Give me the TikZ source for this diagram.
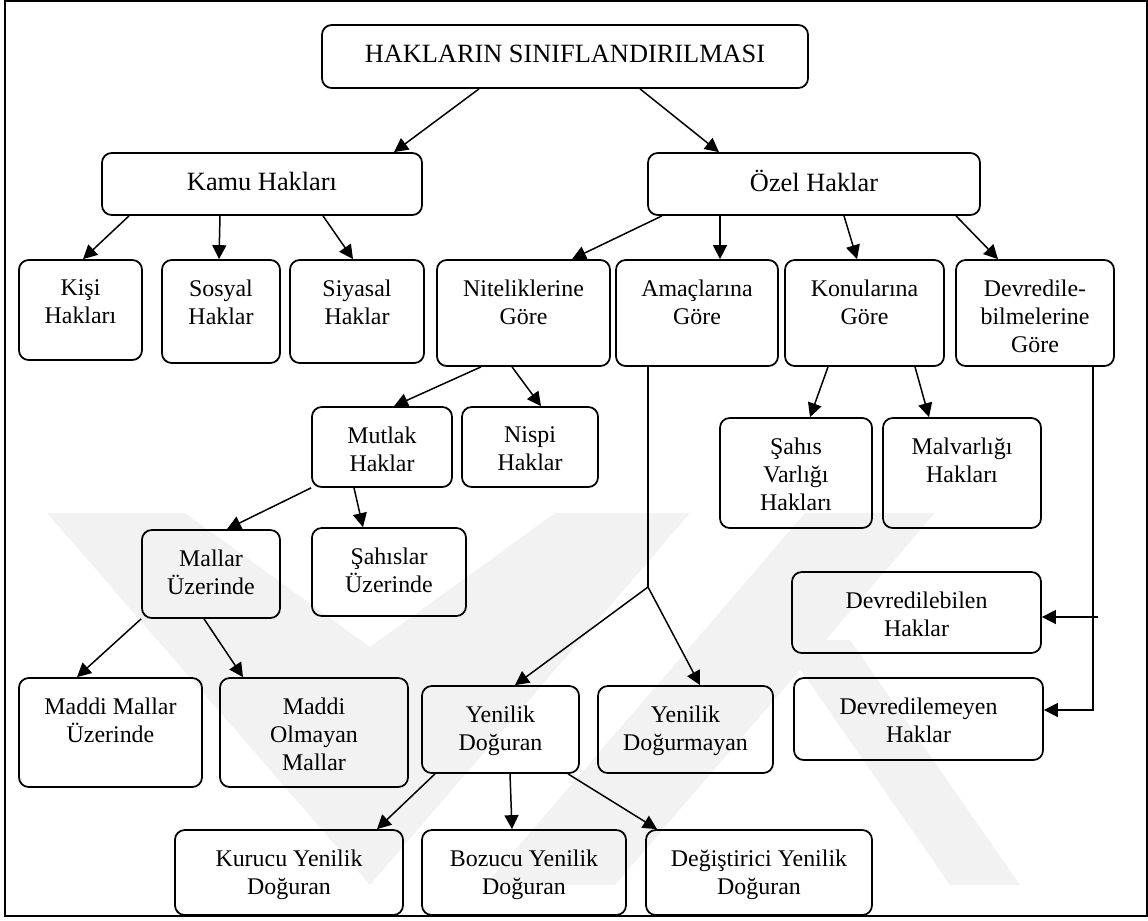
\documentclass[tikz,border=0pt]{standalone}
\usepackage{fontspec}
\setmainfont{Liberation Serif}
\usetikzlibrary{arrows.meta,fit}
\definecolor{Ink}{HTML}{000000}
\definecolor{Shade}{HTML}{F2F2F2}
\tikzset{
  box/.style={draw=Ink, line width=1pt, rounded corners=5.5pt, inner sep=0pt},
  boxtext/.style={anchor=north, align=center, inner sep=0pt, yshift=-11.5pt,
    font=\fontsize{13.6}{16}\selectfont},
  bigtext/.style={boxtext, font=\fontsize{15}{17}\selectfont},
  flow/.style={-{Triangle[length=0.28cm,width=0.28cm]}, line width=0.85pt, draw=Ink},
  plainline/.style={line width=0.85pt, draw=Ink},
  wmark/.style={fill=Shade, draw=none}
}
\begin{document}
\begin{tikzpicture}[x=0.02cm, y=-0.02cm]
  \useasboundingbox (0,0) rectangle (1148,920);
  % faint logo in the background
  \fill[wmark] (47,513) -- (185,513) -- (370,647) -- (555,513) -- (690,513) -- (370,885) -- cycle;
  \fill[wmark] (805,513) -- (935,513) -- (615,885) -- (485,885) -- cycle;
  \fill[wmark] (780,640) -- (850,640) -- (1020,885) -- (950,885) -- cycle;
  \draw[line width=1.1pt, draw=Ink] (5,1) rectangle (1147,916);

  % first levels
  \node[box, fit={(322,25) (808,88)}, label={[bigtext]north:HAKLARIN SINIFLANDIRILMASI}] (baslik) {};
  \node[box, fit={(102,153) (422,215)}, label={[bigtext]north:Kamu Hakları}] (kamu) {};
  \node[box, fit={(648,153) (980,215)}, label={[bigtext, yshift=1.2pt]north:Özel Haklar}] (ozel) {};

  \node[box, fit={(19,260) (142,360)}, label={[boxtext]north:{Kişi\\Hakları}}] (kisi) {};
  \node[box, fit={(162,260) (280,363)}, label={[boxtext]north:{Sosyal\\Haklar}}] (sosyal) {};
  \node[box, fit={(290,260) (424,363)}, label={[boxtext]north:{Siyasal\\Haklar}}] (siyasal) {};
  \node[box, fit={(437,260) (610,366)}, label={[boxtext]north:{Niteliklerine\\Göre}}] (nitelik) {};
  \node[box, fit={(616,260) (778,366)}, label={[boxtext]north:{Amaçlarına\\Göre}}] (amac) {};
  \node[box, fit={(785,260) (944,366)}, label={[boxtext]north:{Konularına\\Göre}}] (konu) {};
  \node[box, fit={(956,260) (1114,366)}, label={[boxtext]north:{Devredile-\\bilmelerine\\Göre}}] (devir) {};

  % lower levels
  \node[box, fit={(312,407) (452,487)}, label={[boxtext]north:{Mutlak\\Haklar}}] (mutlak) {};
  \node[box, fit={(462,407) (598,487)}, label={[boxtext]north:{Nispi\\Haklar}}] (nispi) {};
  \node[box, fit={(720,418) (872,528)}, label={[boxtext]north:{Şahıs\\Varlığı\\Hakları}}] (sahisv) {};
  \node[box, fit={(883,418) (1041,528)}, label={[boxtext]north:{Malvarlığı\\Hakları}}] (malvar) {};
  \node[box, fit={(142,530) (280,618)}, label={[boxtext]north:{Mallar\\Üzerinde}}] (mallar) {};
  \node[box, fit={(312,528) (466,616)}, label={[boxtext]north:{Şahıslar\\Üzerinde}}] (sahislar) {};
  \node[box, fit={(792,572) (1041,653)}, label={[boxtext]north:{Devredilebilen\\Haklar}}] (devreb) {};
  \node[box, fit={(794,678) (1043,760)}, label={[boxtext]north:{Devredilemeyen\\Haklar}}] (devremez) {};
  \node[box, fit={(19,678) (202,787)}, label={[boxtext]north:{Maddi Mallar\\Üzerinde}}] (maddi) {};
  \node[box, fit={(220,678) (408,787)}, label={[boxtext]north:{Maddi\\Olmayan\\Mallar}}] (maddiol) {};
  \node[box, fit={(422,686) (579,773)}, label={[boxtext]north:{Yenilik\\Doğuran}}] (yenidog) {};
  \node[box, fit={(598,686) (773,773)}, label={[boxtext]north:{Yenilik\\Doğurmayan}}] (yenidogm) {};
  \node[box, fit={(175,830) (403,915)}, label={[boxtext]north:{Kurucu Yenilik\\Doğuran}}] (kurucu) {};
  \node[box, fit={(422,830) (626,915)}, label={[boxtext]north:{Bozucu Yenilik\\Doğuran}}] (bozucu) {};
  \node[box, fit={(646,830) (872,915)}, label={[boxtext]north:{Değiştirici Yenilik\\Doğuran}}] (degis) {};

  \coordinate (ayrim) at (648,587);
  \coordinate (devirsag) at (1098,617);

  % connectors
  \draw[flow] (baslik.south -| 479,0) -- (kamu.north -| 394,0);
  \draw[flow] (baslik.south -| 640,0) -- (ozel.north -| 719,0);
  \draw[flow] (kamu.south -| 129,0) -- (kisi.north -| 83,0);
  \draw[flow] (kamu.south -| 220,0) -- (sosyal.north -| 219,0);
  \draw[flow] (kamu.south -| 323,0) -- (siyasal.north -| 353,0);
  \draw[flow] (ozel.south -| 662,0) -- (nitelik.north -| 572,0);
  \draw[flow] (ozel.south -| 720,0) -- (amac.north -| 720,0);
  \draw[flow] (ozel.south -| 844,0) -- (konu.north -| 857,0);
  \draw[flow] (ozel.south -| 956,0) -- (devir.north -| 998,0);
  \draw[flow] (nitelik.south -| 481,0) -- (mutlak.north -| 394,0);
  \draw[flow] (nitelik.south -| 512,0) -- (nispi.north -| 541,0);
  \draw[flow] (konu.south -| 828,0) -- (sahisv.north -| 810,0);
  \draw[flow] (konu.south -| 915,0) -- (malvar.north -| 929,0);
  \draw[flow] (mutlak.south west) -- (mallar.north -| 227,0);
  \draw[flow] (mutlak.south -| 354,0) -- (sahislar.north -| 363,0);
  \draw[flow] (mallar.south west) -- (maddi.north -| 77,0);
  \draw[flow] (mallar.south -| 204,0) -- (maddiol.north -| 243,0);
  \draw[plainline] (amac.south -| ayrim) -- (ayrim);
  \draw[flow] (ayrim) -- (yenidog.north -| 515,0);
  \draw[flow] (ayrim) -- (yenidogm.north -| 700,0);
  \draw[flow] (yenidog.south -| 435,0) -- (kurucu.north -| 377,0);
  \draw[flow] (yenidog.south -| 510,0) -- (bozucu.north -| 512,0);
  \draw[flow] (yenidog.south -| 568,0) -- (degis.north -| 657,0);
  \draw[flow] (devir.south -| 1093,0) |- (devremez.east |- 0,710);
  \draw[flow] (devirsag) -- (devreb.east |- devirsag);
\end{tikzpicture}
\end{document}
